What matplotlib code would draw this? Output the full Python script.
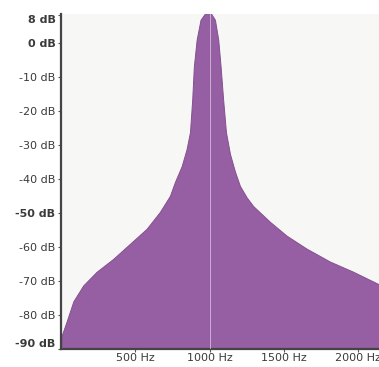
import matplotlib
matplotlib.use("Agg")
import matplotlib.pyplot as plt

# spectrum envelope (Hz, dB)
freq_hz = [0, 5, 38, 83, 150, 240, 352, 464, 576, 666, 733, 767, 812, 845,
           868, 883, 894, 913, 939, 968, 989, 1010, 1036, 1058, 1074, 1091,
           1110, 1137, 1170, 1204, 1250, 1293, 1405, 1518, 1652, 1809, 1966,
           2140]
level_db = [-90, -86, -81.9, -76, -71.3, -67.3, -63.5, -59.1, -54.7, -49.7,
            -45, -40.9, -36.3, -31.3, -26.3, -16.7, -7.0, 0.9, 6.7, 8.5, 8.8,
            8.5, 6.7, 0.9, -7.0, -16.7, -26.3, -32.7, -37.8, -42.1, -45.5, -48,
            -52.6, -56.7, -60.5, -64.3, -67.3, -71]

y_ticks = [8, 0, -10, -20, -30, -40, -50, -60, -70, -80, -90]
y_labels = ["8 dB", "0 dB", "-10 dB", "-20 dB", "-30 dB", "-40 dB", "-50 dB",
            "-60 dB", "-70 dB", "-80 dB", "-90 dB"]
x_ticks = [500, 1000, 1500, 2000]
x_labels = ["500 Hz", "1000 Hz", "1500 Hz", "2000 Hz"]

FILL = "#965ea3"
fig = plt.figure(figsize=(3.79, 3.67), dpi=100)
ax = fig.add_axes([61 / 379, 18 / 367, 318 / 379, 335 / 367])
ax.set_facecolor("#f7f8f6")

ax.fill_between(freq_hz, level_db, -90, color=FILL, edgecolor="#86508f",
                linewidth=0.7, zorder=2)
ax.axvline(1000, color="white", lw=0.7, alpha=0.5, zorder=3)

ax.set_xlim(0, 2140)
ax.set_ylim(-90, 8.4)
ax.set_xticks(x_ticks)
ax.set_xticklabels(x_labels)
ax.set_yticks(y_ticks)
ax.set_yticklabels(y_labels)
ax.tick_params(axis="both", labelsize=8, colors="#555555", labelcolor="#3a3a3a",
               length=2.5, width=0.8, pad=1.5)
ax.tick_params(axis="x", length=2, pad=1)
for s in ["top", "right"]:
    ax.spines[s].set_visible(False)
for s in ["left", "bottom"]:
    ax.spines[s].set_color("#444444")
    ax.spines[s].set_linewidth(1.6)

labs = ax.get_yticklabels()
for i, lab in enumerate(labs):
    if y_labels[i] in ("8 dB", "0 dB", "-50 dB", "-90 dB"):
        lab.set_fontweight("bold")
labs[0].set_va("top")
labs[-1].set_va("bottom")

fig.savefig("out.png", dpi=100, facecolor="white")
